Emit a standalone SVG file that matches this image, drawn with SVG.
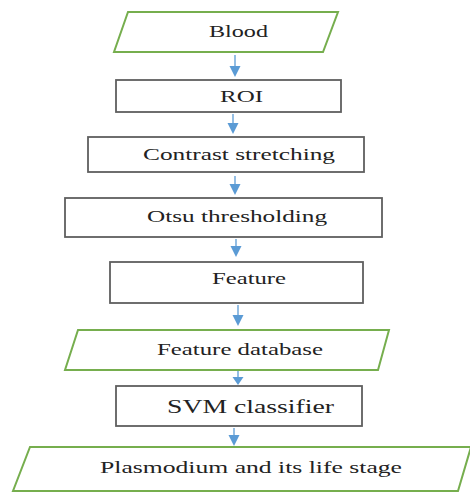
<svg xmlns="http://www.w3.org/2000/svg" width="470" height="492" viewBox="0 0 470 492">
<defs>
<style>
.io{fill:#fff;stroke:#76ae4e;stroke-width:2}
.pr{fill:#fff;stroke:#5f5f5f;stroke-width:1.8}
.t{font-family:"Liberation Serif","Times New Roman",serif;font-size:17px;fill:#222}
.c line{stroke:#5b9bd5;stroke-width:1.3}
.c path{fill:#5b9bd5}
</style>
</defs>
<rect width="470" height="492" fill="#fff"/>
<g class="c" id="connectors">
<line x1="235" y1="55" x2="235" y2="67"/><path d="M229.5,66 L240.5,66 L235,77 Z"/>
<line x1="233" y1="114" x2="233" y2="124"/><path d="M227.5,123 L238.5,123 L233,134 Z"/>
<line x1="235" y1="176" x2="235" y2="185"/><path d="M229.5,184 L240.5,184 L235,195 Z"/>
<line x1="236" y1="239" x2="236" y2="247"/><path d="M230.5,246 L241.5,246 L236,257 Z"/>
<line x1="238" y1="305" x2="238" y2="316"/><path d="M232.5,315 L243.5,315 L238,326 Z"/>
<line x1="238" y1="371" x2="238" y2="378"/><path d="M232.5,377 L243.5,377 L238,385 Z"/>
<line x1="234" y1="428" x2="234" y2="436"/><path d="M228.5,435 L239.5,435 L234,446 Z"/>
</g>
<g id="blood"><polygon class="io" points="128,12 338,12 323,52 114,52"/><text class="t" x="209" y="37" textLength="59" lengthAdjust="spacingAndGlyphs">Blood</text></g>
<g id="roi"><rect class="pr" x="116" y="80" width="225" height="32"/><text class="t" x="220" y="102" textLength="43" lengthAdjust="spacingAndGlyphs">ROI</text></g>
<g id="contrast"><rect class="pr" x="88" y="137" width="276" height="35"/><text class="t" x="143" y="160" textLength="192" lengthAdjust="spacingAndGlyphs">Contrast stretching</text></g>
<g id="otsu"><rect class="pr" x="65" y="198" width="317" height="39"/><text class="t" x="147" y="222" textLength="180" lengthAdjust="spacingAndGlyphs">Otsu thresholding</text></g>
<g id="feature"><rect class="pr" x="110" y="262" width="253" height="41"/><text class="t" x="212" y="284" textLength="74" lengthAdjust="spacingAndGlyphs">Feature</text></g>
<g id="featuredb"><polygon class="io" points="78,330 389,330 378,370 65,370"/><text class="t" x="157" y="355" textLength="166" lengthAdjust="spacingAndGlyphs">Feature database</text></g>
<g id="svm"><rect class="pr" x="116" y="386" width="246" height="40"/><text class="t" x="167" y="413" font-size="19" textLength="167" lengthAdjust="spacingAndGlyphs" style="font-size:19px">SVM classifier</text></g>
<g id="plasmodium"><polygon class="io" points="30,447 471,447 458,491 13,491"/><text class="t" x="100" y="473" textLength="302" lengthAdjust="spacingAndGlyphs">Plasmodium and its life stage</text></g>
</svg>
